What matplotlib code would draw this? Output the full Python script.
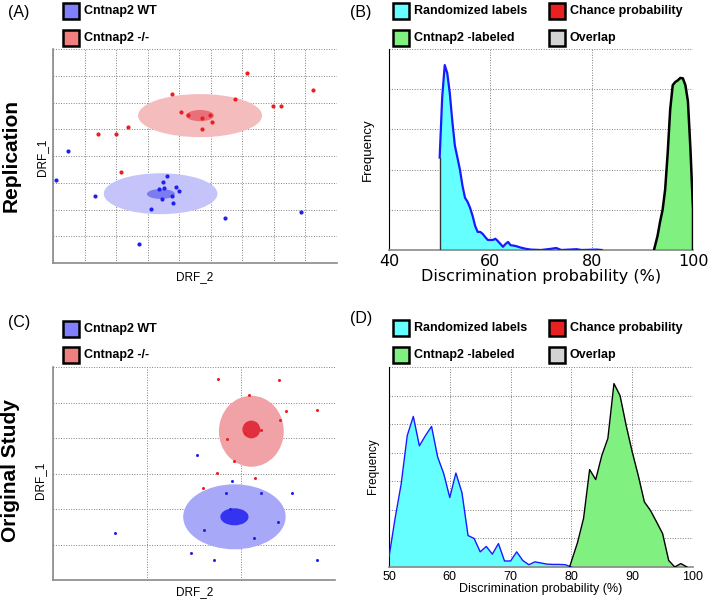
import numpy as np
import matplotlib
matplotlib.use("Agg")
from matplotlib import pyplot as plt
from matplotlib.patches import Ellipse, Rectangle

# ---- panel A (replication scatter), data units = grid cells
a_red_x = [6.16, 8.25, 3.77, 5.78, 6.97, 7.22, 4.07, 4.29, 4.98, 4.73, 5.03, 4.73, 2.38, 1.42, 2.00, 2.14]
a_red_y = [7.12, 6.45, 6.31, 6.13, 5.86, 5.88, 5.66, 5.53, 5.55, 5.41, 5.28, 5.00, 5.07, 4.81, 4.81, 3.39]
a_blue_x = [0.48, 0.08, 3.60, 3.48, 3.36, 3.52, 3.91, 3.98, 3.76, 3.45, 3.80, 3.12, 1.33, 5.46, 7.87, 2.72]
a_blue_y = [4.20, 3.11, 3.26, 3.03, 2.78, 2.82, 2.84, 2.68, 2.50, 2.40, 2.26, 2.02, 2.50, 1.67, 1.91, 0.72]
# ellipses: (cx, cy, width, height)
a_red_ell = [(4.66, 5.51, 3.93, 1.61), (4.66, 5.51, 0.88, 0.42)]
a_blue_ell = [(3.41, 2.59, 3.60, 1.53), (3.42, 2.58, 0.89, 0.37)]

# ---- panel C (original study scatter)
c_red_x = [1.76, 2.40, 2.09, 2.48, 2.81, 2.41, 2.21, 2.04, 1.85, 1.93, 1.74, 2.15, 1.60]
c_red_y = [5.66, 5.62, 5.20, 4.76, 4.78, 4.50, 4.22, 4.14, 3.97, 3.36, 3.01, 2.86, 2.58]
c_blue_x = [1.53, 1.90, 1.84, 2.21, 2.54, 2.39, 1.88, 1.61, 2.14, 0.66, 1.47, 1.71, 2.81]
c_blue_y = [3.51, 2.80, 2.46, 2.46, 2.46, 1.64, 1.99, 1.40, 1.17, 1.31, 0.75, 0.57, 0.55]
c_red_ell = [(2.11, 4.19, 0.69, 2.00), (2.11, 4.24, 0.19, 0.50)]
c_blue_ell = [(1.93, 1.78, 1.09, 1.83), (1.93, 1.78, 0.30, 0.48)]

# ---- panel B histograms
b_rand_x = [50, 50.5, 51, 51.5, 52, 52.5, 53, 53.5, 54, 54.5, 55, 55.5, 56, 56.5, 57, 57.5, 58,
            58.5, 59, 59.5, 60, 60.5, 61, 61.5, 62, 62.5, 63, 63.5, 64, 65, 66, 67, 68, 70, 72,
            73, 74, 77, 78, 81, 82]
b_rand_y = [2.3, 3.8, 4.6, 4.4, 3.9, 3.2, 2.6, 2.3, 2.0, 1.6, 1.3, 1.2, 1.05, 0.85, 0.6, 0.45, 0.45,
            0.40, 0.32, 0.25, 0.25, 0.25, 0.28, 0.22, 0.15, 0.08, 0.15, 0.2, 0.12, 0.1, 0.06, 0.03,
            0.01, 0.0, 0.03, 0.05, 0.0, 0.02, 0.0, 0.01, 0.0]
b_lab_x = [92.3, 93, 93.5, 94, 94.5, 95, 95.5, 96, 96.5, 97, 97.5, 98, 98.5, 99, 99.5, 100, 100]
b_lab_y = [0, 0.35, 0.7, 1.0, 1.5, 2.4, 3.5, 4.1, 4.18, 4.22, 4.28, 4.27, 4.1, 3.7, 2.5, 1.0, 0]

# ---- panel D histograms
d_rand_x = [50, 51, 52, 53, 54, 55, 56, 57, 58, 59, 60, 61, 62, 63, 64, 65, 66, 67, 68, 69, 70,
            71, 72, 73, 74, 75, 76, 77, 78, 79, 80]
d_rand_y = [0.35, 1.7, 2.9, 4.6, 5.27, 4.24, 4.6, 4.92, 3.85, 3.27, 2.43, 3.29, 2.6, 1.1, 1.0,
            0.53, 0.72, 0.45, 0.82, 0.21, 0.21, 0.53, 0.23, 0.08, 0.18, 0.14, 0.1, 0.09, 0.09,
            0.08, 0.0]
d_lab_x = [79.7, 81, 82, 83, 84, 85, 86, 87, 88, 89, 90, 91, 92, 93, 94, 95, 96, 97, 98, 99]
d_lab_y = [0, 0.85, 1.7, 3.41, 3.06, 3.9, 4.5, 6.42, 6.0, 4.96, 4.03, 3.2, 2.28, 1.98, 1.58,
           1.17, 0.23, 0.0, 0.12, 0.0]

W, H = 709, 600
plt.rcParams["font.family"] = ["Liberation Sans", "DejaVu Sans"]
fig = plt.figure(figsize=(W / 100, H / 100), dpi=100)

GRID = dict(color="#808080", linestyle=(0, (1, 1.6)), linewidth=0.7)


def px_axes(l, t, r, b):
    return fig.add_axes([l / W, 1 - b / H, (r - l) / W, (b - t) / H])


def px_text(x, y, s, **kw):
    fig.text(x / W, 1 - y / H, s, ha=kw.pop("ha", "center"), va=kw.pop("va", "center"), **kw)


def legend_item(x, y, color, label):
    fig.add_artist(Rectangle((x / W, 1 - (y + 16) / H), 16 / W, 16 / H, transform=fig.transFigure,
                             facecolor=color, edgecolor="black", linewidth=1.8))
    px_text(x + 21, y + 8, label, fontsize=9, fontweight="bold", ha="left")


def scatter_panel(ax, nx, ny, red_x, red_y, blue_x, blue_y, red_ell, blue_ell, colors, ms):
    for (cx, cy, w, h), c in zip(red_ell, colors[:2]):
        ax.add_patch(Ellipse((cx, cy), w, h, facecolor=c, edgecolor="none", zorder=2))
    for (cx, cy, w, h), c in zip(blue_ell, colors[2:]):
        ax.add_patch(Ellipse((cx, cy), w, h, facecolor=c, edgecolor="none", zorder=2))
    ax.plot(red_x, red_y, "o", color="#e82020", ms=ms, mec="none", zorder=3)
    ax.plot(blue_x, blue_y, "o", color="#2020ee", ms=ms, mec="none", zorder=3)
    ax.set_xlim(0, nx)
    ax.set_ylim(0, ny)
    ax.set_xticks(range(nx + 1))
    ax.set_yticks(range(ny + 1))
    ax.set_xticklabels([])
    ax.set_yticklabels([])
    ax.tick_params(length=0)
    ax.grid(True, **GRID)
    ax.set_axisbelow(True)
    for s in ["top", "right"]:
        ax.spines[s].set_visible(False)
    for s in ["left", "bottom"]:
        ax.spines[s].set_color("#8a8a8a")
        ax.spines[s].set_linewidth(1.2)


def hist_panel(ax, rx, ry, lx, ly, xlim, xticks, ny, lw_r, lw_g):
    ax.fill_between(rx, ry, 0, color="#66ffff", lw=0, zorder=2)
    ax.plot(rx, ry, color="#1a1aff", lw=lw_r, zorder=3)
    ax.fill_between(lx, ly, 0, color="#80f080", lw=0, zorder=2)
    ax.plot(lx, ly, color="black", lw=lw_g, zorder=3)
    ax.set_xlim(*xlim)
    ax.set_ylim(0, ny)
    ax.set_xticks(xticks)
    ax.set_yticks(range(ny + 1))
    ax.set_yticklabels([])
    ax.tick_params(length=0)
    ax.grid(True, **GRID)
    ax.set_axisbelow(True)
    for s in ["top", "right"]:
        ax.spines[s].set_visible(False)
    ax.spines["left"].set_color("black")
    ax.spines["bottom"].set_color("#8a8a8a")
    ax.spines["bottom"].set_linewidth(1.2)


# (A)
axA = px_axes(53, 49, 337, 263)
scatter_panel(axA, 9, 8, a_red_x, a_red_y, a_blue_x, a_blue_y, a_red_ell, a_blue_ell,
              ["#f5bcbe", "#e8707a", "#c4c4fa", "#7c7cf0"], 3.0)
px_text(195, 277, "DRF_2", fontsize=8.5)
px_text(42, 157, "DRF_1", fontsize=8.5, rotation=90)

# (C)
axC = px_axes(53, 367, 335, 580)
scatter_panel(axC, 3, 6, c_red_x, c_red_y, c_blue_x, c_blue_y, c_red_ell, c_blue_ell,
              ["#f0a2a6", "#e03040", "#a8a8f8", "#3434f0"], 2.2)
px_text(195, 592, "DRF_2", fontsize=8.5)
px_text(40, 480, "DRF_1", fontsize=8.5, rotation=90)

# (B)
axB = px_axes(389, 49, 693, 250)
hist_panel(axB, b_rand_x, b_rand_y, b_lab_x, b_lab_y, (40, 100), [40, 60, 80, 100], 5, 1.6, 1.8)
axB.plot([50, 50], [0, b_rand_y[0]], color="#333333", lw=1.0, zorder=3)
for lab in axB.get_xticklabels():
    lab.set_fontfamily("DejaVu Sans")
    lab.set_fontsize(11.5)
axB.tick_params(axis="x", pad=3)
px_text(541, 277, "Discrimination probability (%)", fontsize=11.5, family="DejaVu Sans")
px_text(368, 150, "Frequency", fontsize=9.5, rotation=90)

# (D)
axD = px_axes(389, 367, 693, 567)
hist_panel(axD, d_rand_x, d_rand_y, d_lab_x, d_lab_y, (50, 100), [50, 60, 70, 80, 90, 100], 7, 1.0, 1.0)
axD.tick_params(axis="x", labelsize=9, pad=3)
px_text(541, 589, "Discrimination probability (%)", fontsize=9)
px_text(373, 466, "Frequency", fontsize=8.5, rotation=90)

# legends
legend_item(63, 3, "#8080ff", "Cntnap2 WT")
legend_item(63, 30, "#f08080", "Cntnap2 -/-")
legend_item(63, 321, "#8080ff", "Cntnap2 WT")
legend_item(63, 347, "#f08080", "Cntnap2 -/-")
for y0, y1 in [(3, 30), (320, 347)]:
    legend_item(393, y0, "#66ffff", "Randomized labels")
    legend_item(549, y0, "#e82020", "Chance probability")
    legend_item(393, y1, "#80f080", "Cntnap2 -labeled")
    legend_item(549, y1, "#d3d3d3", "Overlap")

# panel letters and row labels
for x, y, s in [(19, 12, "(A)"), (361, 12, "(B)"), (19, 322, "(C)"), (361, 319, "(D)")]:
    px_text(x, y, s, fontsize=11.5)
px_text(11, 156, "Replication", fontsize=15, fontweight="bold", rotation=90)
px_text(11, 471, "Original Study", fontsize=15, fontweight="bold", rotation=90)

fig.savefig("out.png", dpi=100)
